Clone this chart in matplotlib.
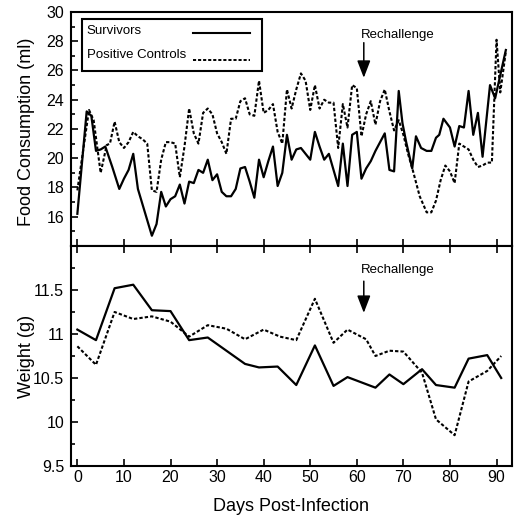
import matplotlib
matplotlib.use("Agg")
import matplotlib.pyplot as plt
from matplotlib.ticker import MultipleLocator
from matplotlib.patches import Rectangle
from matplotlib.lines import Line2D

plt.rcParams['font.family'] = ['Liberation Sans', 'DejaVu Sans']

# ---- Food consumption (ml) ----
surv_food_days = [0, 2, 3, 4, 5, 6, 7.5, 9, 10, 11, 12, 13, 16, 17, 18, 19, 20, 21, 22, 23,
                  24, 25, 26, 27, 28, 29, 30, 31, 32, 33, 34, 35, 36, 37, 38, 39, 40, 41, 42, 43,
                  44, 45, 46, 47, 48, 49, 50, 51, 52, 53, 54, 56, 57, 58, 59, 60, 61, 62, 63, 64,
                  65, 66, 67, 68, 69, 69.8, 70.6, 71.9, 72.7, 73.8, 75, 76, 77, 77.7, 78.6, 80, 81, 82, 83, 84,
                  85, 86, 87, 88.6, 89.7, 92]
surv_food = [16.2, 23.2, 22.9, 20.5, 20.6, 20.8, 19.4, 17.9, 18.6, 19.2, 20.3, 17.9, 14.7, 15.5, 17.7, 16.7, 17.2, 17.4, 18.2, 16.9,
             18.4, 18.3, 19.2, 19.0, 19.9, 18.5, 18.9, 17.7, 17.4, 17.4, 17.9, 19.3, 19.4, 18.4, 17.3, 19.9, 18.7, 19.8, 20.8, 18.1,
             19.0, 21.6, 19.9, 20.6, 20.7, 20.3, 19.9, 21.8, 20.8, 19.9, 20.3, 18.1, 21.0, 18.1, 21.6, 21.8, 18.6, 19.3, 19.8, 20.5,
             21.1, 21.7, 19.2, 19.1, 24.6, 22.4, 21.1, 19.3, 21.5, 20.7, 20.5, 20.5, 21.4, 21.6, 22.7, 22.1, 20.8, 22.2, 22.1, 24.6,
             21.6, 23.1, 20.1, 25.0, 24.1, 27.4]

ctrl_food_days = [0, 2.5, 3.5, 5, 6.3, 7, 8, 9, 10, 11, 12, 13, 14, 15, 16, 17, 18, 19, 20, 21,
                  22, 23, 24, 25, 26, 27, 28, 29, 30, 31, 32, 33, 34, 35, 36, 37, 38, 39, 40, 41,
                  42, 43, 44, 45, 46, 47, 48, 49, 50, 51, 52, 53, 54, 55, 56, 57, 58, 59, 60, 61,
                  62, 63, 64, 65, 66, 67, 68, 69, 70, 71, 72, 73.5, 75, 76, 77, 78, 79, 80, 81, 82,
                  83, 84, 85, 86, 87, 88, 89, 90, 90.8, 92]
ctrl_food = [17.8, 23.3, 22.6, 19.0, 20.9, 21.0, 22.5, 21.1, 20.7, 21.1, 21.8, 21.5, 21.3, 21.0, 17.8, 17.7, 19.9, 21.1, 21.1, 21.0,
             18.7, 20.8, 23.4, 21.7, 21.0, 23.1, 23.4, 23.0, 21.7, 21.1, 20.3, 22.7, 22.7, 23.9, 24.1, 23.0, 22.9, 25.3, 23.1, 23.3,
             23.7, 21.8, 21.0, 24.7, 23.4, 24.7, 25.8, 25.3, 23.3, 25.0, 23.4, 24.0, 23.8, 23.8, 20.7, 23.7, 22.1, 25.0, 24.8, 21.5,
             23.0, 23.9, 22.3, 23.9, 24.7, 23.2, 21.9, 22.6, 21.6, 20.3, 19.2, 17.4, 16.3, 16.3, 17.1, 18.5, 19.5, 19.1, 18.3, 21.0,
             20.8, 20.6, 19.9, 19.4, 19.5, 19.7, 19.7, 28.1, 24.5, 27.3]

# ---- Weight (g) ----
surv_wt_days = [0, 4, 8, 12, 16, 20, 24, 28, 32, 36, 39, 43, 47, 51, 55, 58, 64, 67, 70, 74, 77, 81, 84, 88, 91]
surv_wt = [11.05, 10.93, 11.52, 11.56, 11.27, 11.26, 10.93, 10.96, 10.81, 10.66, 10.62, 10.63, 10.42, 10.87, 10.41, 10.51,
           10.39, 10.54, 10.43, 10.60, 10.42, 10.39, 10.72, 10.76, 10.50]

ctrl_wt_days = [0, 4, 8, 12, 16, 20, 24, 28, 32, 36, 40, 43.5, 47, 51, 55, 58, 62, 64, 67, 70, 74, 77, 81, 84, 88, 91]
ctrl_wt = [10.86, 10.65, 11.25, 11.17, 11.20, 11.14, 10.97, 11.10, 11.06, 10.94, 11.05, 10.97, 10.93, 11.40, 10.90, 11.05,
           10.94, 10.75, 10.81, 10.80, 10.56, 10.03, 9.85, 10.46, 10.58, 10.75]

series_labels = ['Survivors', 'Positive Controls']
x_ticks = [0, 10, 20, 30, 40, 50, 60, 70, 80, 90]
food_ticks = [16, 18, 20, 22, 24, 26, 28, 30]
wt_ticks = [9.5, 10, 10.5, 11, 11.5]
wt_labels = ['9.5', '10', '10.5', '11', '11.5']

fig = plt.figure(figsize=(5.15, 5.16), dpi=100)
ax1 = fig.add_axes([0.138, 0.5233, 0.856, 0.4535])
ax2 = fig.add_axes([0.138, 0.0969, 0.856, 0.4264])

dot = (0, (1.6, 1.0))
for ax in (ax1, ax2):
    ax.set_xlim(-1.35, 93.3)
    for s in ax.spines.values():
        s.set_linewidth(1.5)
    ax.set_xticks(x_ticks)
    ax.tick_params(axis='both', which='both', direction='in', width=1.2, labelsize=11.5)
    ax.tick_params(axis='y', which='major', pad=5)
    ax.tick_params(axis='both', which='major', length=5)
    ax.tick_params(axis='both', which='minor', length=3)

ax1.plot(surv_food_days, surv_food, color='black', lw=1.6)
ax1.plot(ctrl_food_days, ctrl_food, color='black', lw=1.5, linestyle=dot)
ax1.set_ylim(14, 30)
ax1.set_yticks(food_ticks)
ax1.yaxis.set_minor_locator(MultipleLocator(1))
ax1.tick_params(axis='x', labelbottom=False)
ax1.set_ylabel('Food Consumption (ml)', fontsize=13)
ax1.yaxis.set_label_coords(-0.082, 0.49)

# legend box (text left, line sample right)
T = ax1.transAxes
ax1.add_patch(Rectangle((0.0242, 0.7466), 0.4084, 0.2248, transform=T, fill=True,
                        facecolor='white', edgecolor='black', lw=1.5, zorder=5))
ax1.text(0.0355, 0.9175, series_labels[0], transform=T, ha='left', va='center', fontsize=9.5, zorder=6)
ax1.text(0.0355, 0.8175, series_labels[1], transform=T, ha='left', va='center', fontsize=9.5, zorder=6)
ax1.add_line(Line2D([0.2766, 0.406], [0.9103, 0.9103], transform=T, color='black', lw=1.5, zorder=6))
ax1.add_line(Line2D([0.2766, 0.406], [0.7950, 0.7950], transform=T, color='black', lw=1.4,
                    linestyle=dot, zorder=6))

arrow = dict(arrowstyle='-|>,head_length=0.7,head_width=0.27', color='black',
             lw=1.1, mutation_scale=15, shrinkA=0, shrinkB=0)
ax1.annotate('', xy=(61.5, 25.5), xytext=(61.5, 27.9), arrowprops=arrow)
ax1.text(68.8, 28.4, 'Rechallenge', ha='center', va='center', fontsize=9.5)

ax2.plot(surv_wt_days, surv_wt, color='black', lw=1.6)
ax2.plot(ctrl_wt_days, ctrl_wt, color='black', lw=1.5, linestyle=dot)
ax2.set_ylim(9.5, 12)
ax2.set_yticks(wt_ticks)
ax2.set_yticklabels(wt_labels)
ax2.yaxis.set_minor_locator(MultipleLocator(0.25))
ax2.tick_params(axis='x', top=True, pad=3)
ax2.set_ylabel('Weight (g)', fontsize=13)
ax2.yaxis.set_label_coords(-0.082, 0.5)
ax2.set_xlabel('Days Post-Infection', fontsize=13, labelpad=9)
ax2.annotate('', xy=(61.5, 11.24), xytext=(61.5, 11.6), arrowprops=arrow)
ax2.text(68.8, 11.73, 'Rechallenge', ha='center', va='center', fontsize=9.5)

fig.savefig('out.png', dpi=100)
